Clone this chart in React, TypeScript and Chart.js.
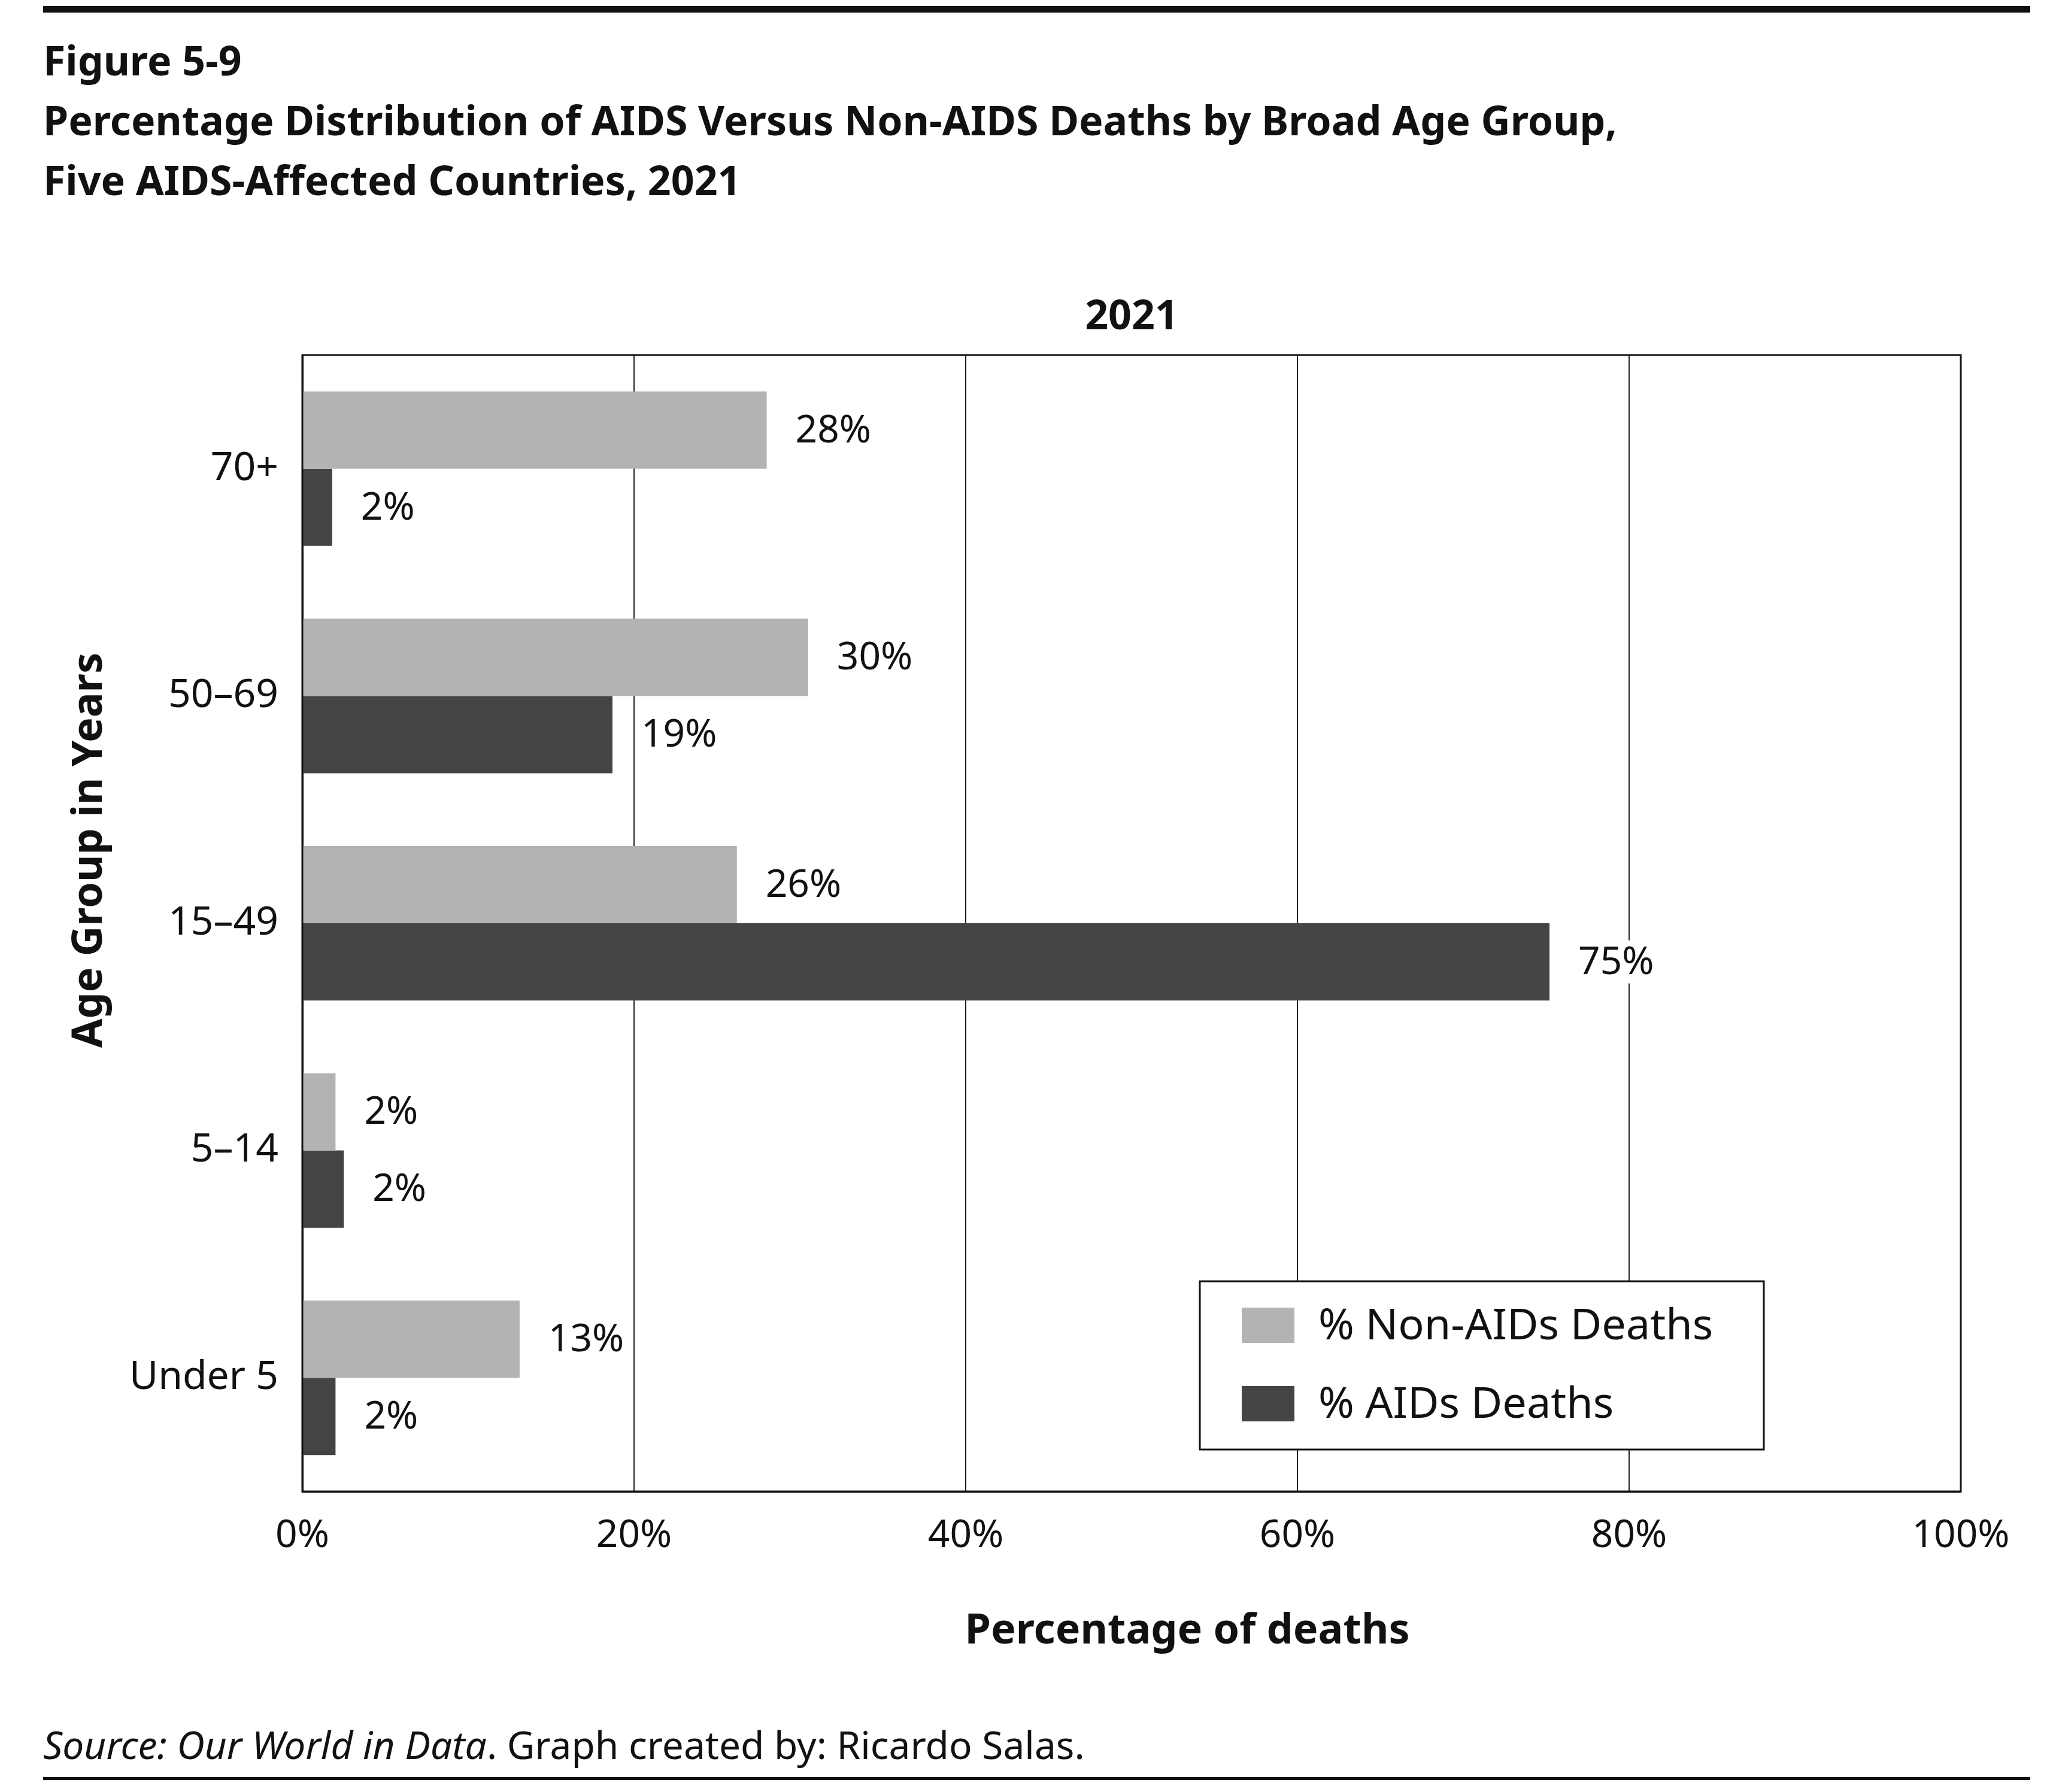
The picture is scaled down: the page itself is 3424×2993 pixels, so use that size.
import React, { useEffect, useRef } from "react";
import { Chart, registerables } from "chart.js";
Chart.register(...registerables);

const categories = ["70+", "50–69", "15–49", "5–14", "Under 5"];
const nonAids = [28, 30.5, 26.2, 2, 13.1];
const aids = [1.8, 18.7, 75.2, 2.5, 2];
const nonAidsLabels = ["28%", "30%", "26%", "2%", "13%"];
const aidsLabels = ["2%", "19%", "75%", "2%", "2%"];
const xTicks = [0, 20, 40, 60, 80, 100];
const seriesNames = ["% Non-AIDs Deaths", "% AIDs Deaths"];

const FONT = '"Noto Sans", "Open Sans", sans-serif';
const LIGHT = "#b3b3b3";
const DARK = "#444444";

const extras = {
  id: "extras",
  afterDatasetsDraw(chart: any) {
    const ctx = chart.ctx;
    const a = chart.chartArea;
    ctx.save();
    ctx.strokeStyle = "#111";
    ctx.lineWidth = 3;
    ctx.strokeRect(a.left, a.top, a.right - a.left, a.bottom - a.top);
    ctx.font = `64px ${FONT}`;
    ctx.fillStyle = "#111";
    ctx.textBaseline = "middle";
    const labs = [nonAidsLabels, aidsLabels];
    chart.data.datasets.forEach((_: any, di: number) => {
      const meta = chart.getDatasetMeta(di);
      meta.data.forEach((el: any, i: number) => {
        const t = labs[di][i];
        const w = ctx.measureText(t).width;
        const x = el.x + 48;
        ctx.fillStyle = "#fff";
        ctx.fillRect(x - 8, el.y - 36, w + 16, 72);
        ctx.fillStyle = "#111";
        ctx.fillText(t, x, el.y + 2);
      });
    });
    // legend
    const lx = 2004, ly = 2140, lw = 942, lh = 281;
    ctx.fillStyle = "#fff";
    ctx.fillRect(lx, ly, lw, lh);
    ctx.strokeStyle = "#111";
    ctx.lineWidth = 3;
    ctx.strokeRect(lx, ly, lw, lh);
    ctx.font = `72px ${FONT}`;
    [LIGHT, DARK].forEach((c, i) => {
      const y = ly + 44 + i * 131;
      ctx.fillStyle = c;
      ctx.fillRect(lx + 70, y, 88, 59);
      ctx.fillStyle = "#111";
      ctx.fillText(seriesNames[i], lx + 198, y + 32);
    });
    ctx.restore();
  },
};

export default function App() {
  const ref = useRef<HTMLCanvasElement>(null);
  useEffect(() => {
    const chart = new Chart(ref.current!, {
      type: "bar",
      data: {
        labels: categories,
        datasets: [
          { label: seriesNames[0], data: nonAids, backgroundColor: LIGHT, categoryPercentage: 0.68, barPercentage: 1 },
          { label: seriesNames[1], data: aids, backgroundColor: DARK, categoryPercentage: 0.68, barPercentage: 1 },
        ],
      },
      options: {
        indexAxis: "y",
        animation: false,
        responsive: false,
        devicePixelRatio: 1,
        layout: { padding: { left: 0, top: 593, right: 149, bottom: 352 } },
        plugins: { legend: { display: false }, tooltip: { enabled: false } },
        scales: {
          x: {
            min: 0,
            max: 100,
            afterBuildTicks: (s: any) => { s.ticks = xTicks.map((v) => ({ value: v })); },
            afterFit: (s: any) => { s.height = 150; },
            ticks: { color: "#111", font: { family: FONT, size: 64 }, padding: 36, callback: (v: any) => v + "%" },
            grid: { color: "#222", lineWidth: 2, drawTicks: false },
            border: { color: "#111", width: 3 },
          },
          y: {
            afterFit: (s: any) => { s.width = 505; },
            ticks: { color: "#111", font: { family: FONT, size: 66 }, padding: 40 },
            grid: { display: false, drawTicks: false },
            border: { color: "#111", width: 3 },
          },
        },
      },
      plugins: [extras],
    } as any);
    return () => chart.destroy();
  }, []);
  const abs = (s: React.CSSProperties): React.CSSProperties => ({ position: "absolute", margin: 0, color: "#111", fontFamily: FONT, ...s });
  return (
    <div style={{ position: "absolute", left: 0, top: 0, width: 3424, height: 2993, background: "#fff", overflow: "hidden" }}>
      <canvas ref={ref} width={3424} height={2993} style={{ position: "absolute", left: 0, top: 0 }} />
      <div style={abs({ left: 72, top: 10, width: 3319, height: 11, background: "#111" })} />
      <div style={abs({ left: 72, top: 50, fontSize: 68, fontWeight: 700, lineHeight: "100px", whiteSpace: "nowrap" })}>
        Figure 5-9<br />
        Percentage Distribution of AIDS Versus Non-AIDS Deaths by Broad Age Group,<br />
        Five AIDS-Affected Countries, 2021
      </div>
      <div style={abs({ left: 1890, top: 477, width: 0, fontSize: 68, fontWeight: 700, display: "flex", justifyContent: "center", whiteSpace: "nowrap" })}>2021</div>
      <div style={abs({ left: 1983, top: 2670, width: 0, fontSize: 70, fontWeight: 700, display: "flex", justifyContent: "center", whiteSpace: "nowrap" })}>Percentage of deaths</div>
      <div style={abs({ left: 143, top: 1420, width: 0, height: 0, display: "flex", justifyContent: "center", alignItems: "center" })}>
        <div style={{ transform: "rotate(-90deg)", fontSize: 70, fontWeight: 700, whiteSpace: "nowrap" }}>Age Group in Years</div>
      </div>
      <div style={abs({ left: 72, top: 2870, fontSize: 64, whiteSpace: "nowrap" })}>
        <i>Source: Our World in Data</i>. Graph created by: Ricardo Salas.
      </div>
      <div style={abs({ left: 72, top: 2968, width: 3319, height: 5, background: "#111" })} />
    </div>
  );
}
